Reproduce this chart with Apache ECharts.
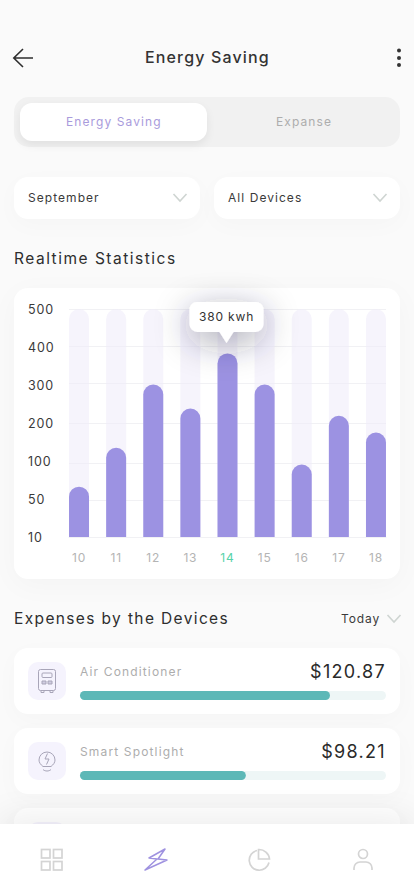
<!DOCTYPE html>
<html><head><meta charset="utf-8">
<script src="https://cdn.jsdelivr.net/npm/echarts@6/dist/echarts.min.js"></script>
<style>
html,body{margin:0;padding:0;width:414px;height:896px;overflow:hidden;background:#fafafa;font-family:Inter,"Noto Sans",sans-serif;}
.a{position:absolute;box-sizing:border-box;white-space:nowrap;}
.t{line-height:20px;height:20px;margin-top:-10px;}
.card{background:#fff;border-radius:14px;box-shadow:0 6px 24px rgba(0,0,0,.025);}
#chart{position:absolute;left:0;top:0;width:414px;height:896px;letter-spacing:.85px;}
#nav{position:absolute;left:0;top:824px;width:414px;height:72px;background:#fff;box-shadow:0 -8px 34px rgba(0,0,0,.07);}
</style></head><body>
<div class="a t" style="left:145px;top:57px;font-size:16px;font-weight:500;letter-spacing:1.150px;color:#333">Energy Saving</div>
<svg class="a" style="left:12px;top:47px" width="22" height="22" viewBox="0 0 22 22" fill="none" stroke="#2e2e2e" stroke-width="1.6"><path d="M21 11H2M11 2l-9.200 9 9.200 9"/></svg>
<svg class="a" style="left:395px;top:47px" width="8" height="22"><circle cx="4" cy="3.500" r="2" fill="#333"/><circle cx="4" cy="11" r="2" fill="#333"/><circle cx="4" cy="18" r="2" fill="#333"/></svg>

<div class="a" style="left:14px;top:97px;width:386px;height:50px;background:#f1f1f1;border-radius:15px"></div>
<div class="a" style="left:20px;top:103px;width:187px;height:38px;background:#fff;border-radius:12px;box-shadow:0 4px 10px rgba(0,0,0,.07)"></div>
<div class="a t" style="left:66px;top:122px;font-size:12px;font-weight:400;letter-spacing:1.100px;color:#a99bdc">Energy Saving</div>
<div class="a t" style="left:276px;top:122px;font-size:12px;font-weight:400;letter-spacing:1.100px;color:#adadad">Expanse</div>

<div class="a card" style="left:14px;top:177px;width:186px;height:42px"></div>
<div class="a card" style="left:214px;top:177px;width:186px;height:42px"></div>
<div class="a t" style="left:28px;top:198px;font-size:12px;font-weight:400;letter-spacing:1.050px;color:#3a3a3a">September</div>
<div class="a t" style="left:228px;top:198px;font-size:12px;font-weight:400;letter-spacing:1.050px;color:#3a3a3a">All Devices</div>
<svg class="a" style="left:172px;top:192px" width="16" height="11" fill="none" stroke="#cfd5d2" stroke-width="1.600"><path d="M1.500 2l6.500 7 6.500-7"/></svg>
<svg class="a" style="left:372px;top:192px" width="16" height="11" fill="none" stroke="#cfd5d2" stroke-width="1.600"><path d="M1.500 2l6.500 7 6.500-7"/></svg>

<div class="a t" style="left:14px;top:259px;font-size:15.500px;font-weight:400;letter-spacing:1.500px;color:#2e2e2e">Realtime Statistics</div>
<div class="a card" style="left:14px;top:288px;width:386px;height:291px;box-shadow:0 6px 30px rgba(0,0,0,.03)"></div>

<div class="a t" style="left:14px;top:619px;font-size:15.500px;font-weight:400;letter-spacing:1.370px;color:#2e2e2e">Expenses by the Devices</div>
<div class="a t" style="left:341px;top:619px;font-size:12px;font-weight:400;letter-spacing:.9px;color:#3a3a3a">Today</div>
<svg class="a" style="left:386px;top:613px" width="16" height="11" fill="none" stroke="#cfd5d2" stroke-width="1.600"><path d="M1.500 2l6.500 7 6.500-7"/></svg>

<div class="a card" style="left:14px;top:648px;width:386px;height:66px"></div>
<div class="a card" style="left:14px;top:728px;width:386px;height:66px"></div>
<div class="a card" style="left:14px;top:808px;width:386px;height:66px"></div>
<div class="a" style="left:28px;top:662px;width:38px;height:38px;background:#f5f3fd;border-radius:10px"></div>
<div class="a" style="left:28px;top:742px;width:38px;height:38px;background:#f5f3fd;border-radius:10px"></div>
<div class="a" style="left:28px;top:822px;width:38px;height:38px;background:#f5f3fd;border-radius:10px"></div>
<svg class="a" style="left:28px;top:662px" width="38" height="38" fill="none" stroke="#a8a5b8" stroke-width="1"><rect x="10.500" y="7.500" width="17" height="21" rx="2"/><rect x="14" y="11" width="10" height="4.500" rx="1"/><path d="M14 19h4v3h-4zM20 19h4v3h-4z" fill="#cfcce0"/><path d="M13 28.500v2h3v-2M22 28.500v2h3v-2"/></svg>
<svg class="a" style="left:28px;top:742px" width="38" height="38" fill="none" stroke="#a8a5b8" stroke-width="1"><path d="M15 24.500c-2.500-2-4-4-4-6.500a8 8 0 0 1 16 0c0 2.500-1.500 4.500-4 6.500z"/><path d="M19.500 11.500l-2.500 5.500h4l-2.500 5.500"/><path d="M15 27.500c2 2 6 2 8 0"/></svg>
<div class="a t" style="left:80px;top:672px;font-size:12px;font-weight:400;letter-spacing:1.150px;color:#adadad">Air Conditioner</div>
<div class="a t" style="left:80px;top:752px;font-size:12px;font-weight:400;letter-spacing:1.150px;color:#adadad">Smart Spotlight</div>
<div class="a t" style="right:28px;top:672px;font-size:18px;font-weight:400;letter-spacing:1.300px;color:#2a2a2a">$120.87</div>
<div class="a t" style="right:28px;top:752px;font-size:18px;font-weight:400;letter-spacing:1.300px;color:#2a2a2a">$98.21</div>

<div id="chart"></div>

<div id="nav">
<svg class="a" style="left:40px;top:24px" width="24" height="24" fill="none" stroke="#d4d4d4" stroke-width="1.700"><rect x="1.500" y="1.500" width="8.500" height="8.500"/><rect x="13.500" y="1.500" width="8.500" height="8.500"/><rect x="1.500" y="13.500" width="8.500" height="8.500"/><rect x="13.500" y="13.500" width="8.500" height="8.500"/></svg>
<svg class="a" style="left:144px;top:24px" width="24" height="24" fill="none" stroke="#9f92e0" stroke-width="1.500" stroke-linejoin="round"><path d="M21 1L5 10l8 1-12 11 22-10-9-1z"/></svg>
<svg class="a" style="left:248px;top:24px" width="24" height="24" fill="none" stroke="#d4d4d4" stroke-width="1.700"><path d="M9 2.500a10 10 0 1 0 12 12"/><path d="M10.500 1.500v9.500H21.500a10.500 10.500 0 0 0-11-9.500z"/></svg>
<svg class="a" style="left:352px;top:24px" width="22" height="24" fill="none" stroke="#d4d4d4" stroke-width="1.700"><circle cx="11" cy="6" r="4.500"/><path d="M2 22v-2a6 6 0 0 1 6-6h6a6 6 0 0 1 6 6v2"/></svg>
</div>

<script>
var days = [10, 11, 12, 13, 14, 15, 16, 17, 18];
var kwh = [68, 138, 296, 236, 380, 296, 98, 218, 176];
var activeDay = 14;
var tickValues = [10, 50, 100, 200, 300, 400, 500];
var tickStops = [0, 37, 74, 114, 154, 191, 228];
var labelStep = 38;
var devices = ['Air Conditioner', 'Smart Spotlight'];
var usagePercent = [81.7, 54.2];

function toStop(v) {
  for (var i = 1; i < tickValues.length; i++) {
    if (v <= tickValues[i]) {
      var f = (v - tickValues[i - 1]) / (tickValues[i] - tickValues[i - 1]);
      return tickStops[i - 1] + f * (tickStops[i] - tickStops[i - 1]);
    }
  }
  return tickStops[tickStops.length - 1];
}
var activeKwh = kwh[days.indexOf(activeDay)];
var font = 'Inter, "Noto Sans", sans-serif';
var chart = echarts.init(document.getElementById('chart'), null, {renderer: 'svg', width: 414, height: 896});

function progressGrid(top) {
  return {left: 80, width: 306, top: top, height: 9};
}
chart.setOption({
  animation: false,
  backgroundColor: 'transparent',
  textStyle: {fontFamily: font},
  grid: [
    {left: 69, width: 317, top: 309, height: 228},
    progressGrid(691),
    progressGrid(771)
  ],
  xAxis: [
    {
      gridIndex: 0, type: 'value', min: 9.73, max: 18.27,
      splitLine: {show: false},
      axisLine: {show: true, lineStyle: {color: '#f1f1f4', width: 1}},
      axisTick: {show: false, customValues: days},
      axisLabel: {
        customValues: days, margin: 14, fontSize: 12, fontFamily: font,
        hideOverlap: false, showMinLabel: true, showMaxLabel: true,
        formatter: function (v) { return String(v); },
        color: function (v) { return Number(v) === activeDay ? '#55d3aa' : '#b4b4b4'; }
      }
    },
    {gridIndex: 1, type: 'value', min: 0, max: 100, show: false},
    {gridIndex: 2, type: 'value', min: 0, max: 100, show: false}
  ],
  yAxis: [
    {
      gridIndex: 0, type: 'value', min: 0, max: 228,
      axisLine: {show: false},
      axisTick: {show: false, customValues: tickStops},
      splitLine: {show: true, lineStyle: {color: '#f1f1f4', width: 1}},
      axisLabel: {
        customValues: tickStops.map(function (_, i) { return i * labelStep; }),
        align: 'left', margin: 41, fontSize: 12.5, fontFamily: font, color: '#3a3a3a',
        showMinLabel: true, showMaxLabel: true,
        formatter: function (v) { return String(tickValues[Math.round(v / labelStep)]); }
      }
    },
    {gridIndex: 1, type: 'category', data: [devices[0]], show: false},
    {gridIndex: 2, type: 'category', data: [devices[1]], show: false}
  ],
  series: [
    {
      type: 'bar', xAxisIndex: 0, yAxisIndex: 0, barWidth: 20, z: 3,
      data: days.map(function (d, i) { return [d, toStop(kwh[i])]; }),
      itemStyle: {color: '#9c92e2', borderRadius: [10, 10, 0, 0]},
      showBackground: true,
      backgroundStyle: {color: 'rgba(238,235,250,.55)', borderRadius: [10, 10, 0, 0]},
      markPoint: {
        z: 5, silent: true,
        symbol: 'path://M8 0H66a8 8 0 0 1 8 8V22a8 8 0 0 1 -8 8H44L37 41L30 30H8a8 8 0 0 1 -8 -8V8a8 8 0 0 1 8 -8Z',
        symbolSize: [74, 41], symbolKeepAspect: false, symbolOffset: [-1, -31],
        itemStyle: {color: '#fff', shadowColor: 'rgba(40,40,70,.4)', shadowBlur: 34, shadowOffsetY: 8},
        label: {
          show: true, position: 'inside', offset: [0, -5.5], fontSize: 12, color: '#333', fontFamily: font,
          formatter: function () { return activeKwh + ' kwh'; }
        },
        data: [{coord: [activeDay, toStop(activeKwh)]}]
      }
    },
    {
      type: 'bar', xAxisIndex: 1, yAxisIndex: 1, barWidth: 9,
      data: [usagePercent[0]],
      itemStyle: {color: '#5db8b7', borderRadius: 4.5},
      showBackground: true, backgroundStyle: {color: '#eef6f6', borderRadius: 4.5}
    },
    {
      type: 'bar', xAxisIndex: 2, yAxisIndex: 2, barWidth: 9,
      data: [usagePercent[1]],
      itemStyle: {color: '#5db8b7', borderRadius: 4.5},
      showBackground: true, backgroundStyle: {color: '#eef6f6', borderRadius: 4.5}
    }
  ]
});
</script>
</body></html>
